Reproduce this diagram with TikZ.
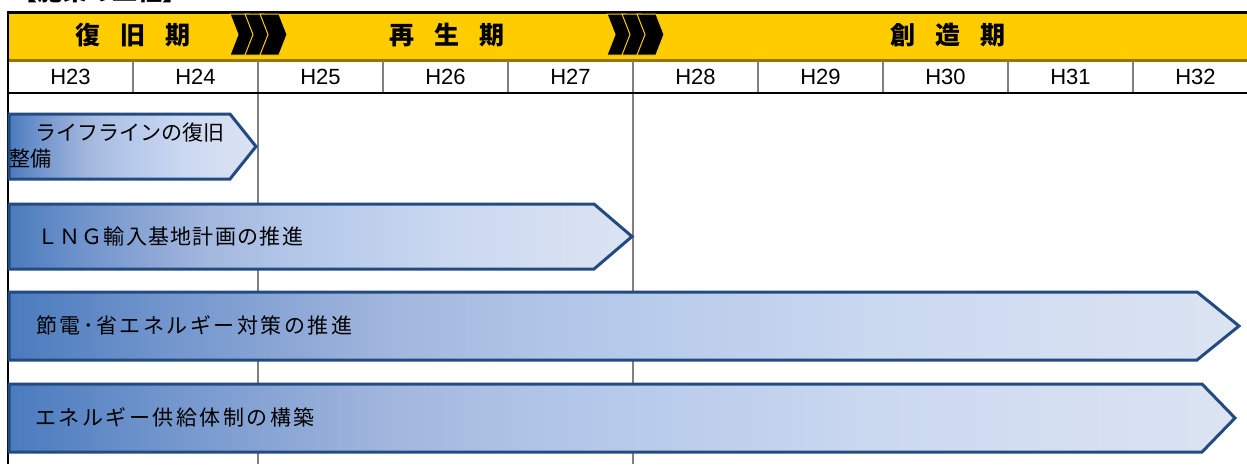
\documentclass[tikz,border=0pt]{standalone}
\usepackage{fontspec}
\setmainfont{Liberation Sans}
\newfontfamily\jp{Noto Sans CJK JP}
\newfontfamily\jpsp[LetterSpace=6]{Noto Sans CJK JP}
\newfontfamily\jpwide[LetterSpace=12]{Noto Sans CJK JP}
\definecolor{band}{RGB}{255,204,0}
\definecolor{goldline}{RGB}{150,118,0}
\definecolor{gridgrey}{RGB}{128,128,128}
\definecolor{barborder}{RGB}{35,75,130}
\definecolor{bA}{RGB}{74,123,189}
\definecolor{bB}{RGB}{112,148,204}
\definecolor{bC}{RGB}{164,184,222}
\definecolor{bD}{RGB}{178,198,233}
\definecolor{bE}{RGB}{202,216,240}
\definecolor{bF}{RGB}{220,228,242}
\pgfdeclarehorizontalshading{barshade}{100bp}{color(0bp)=(bA); color(25bp)=(bA); color(31bp)=(bB); color(41bp)=(bC); color(47.5bp)=(bD); color(60bp)=(bE); color(75bp)=(bF); color(100bp)=(bF)}
\tikzset{
  bar/.style={shading=barshade, draw=barborder, line width=3pt, line join=miter},
  yearlbl/.style={font=\fontsize{22}{22}\selectfont, inner sep=0},
  phaselbl/.style={font=\jp\bfseries\fontsize{25}{25}\selectfont, inner sep=0},
  bartext/.style={font=\jpsp\fontsize{21}{26}\selectfont, inner sep=0, anchor=west, align=left},
  chev/.style={fill=black, draw=band, line width=1pt, line join=miter},
  gridline/.style={draw=gridgrey, line width=2.5pt},
}
\begin{document}
\begin{tikzpicture}[x=1pt,y=-1pt]
\useasboundingbox (0,0) rectangle (1247,464);
\clip (0,0) rectangle (1247,464);
% cut-off title
\node[anchor=base west, font=\jp\bfseries\fontsize{25}{25}\selectfont, inner sep=0] (title) at (12,0.5) {【施策の工程】};
% yellow band
\fill[band] (8,12) rectangle (1250,60);
% year row
\fill[white] (8,61) rectangle (1250,93);
\draw[goldline, line width=2.5pt] (8,60.5) -- (1250,60.5);
% grid lines
\foreach \gx in {133,383,508,758,883,1008,1133}
  \draw[gridline] (\gx,61) -- (\gx,92);
\draw[gridline] (258,61) -- (258,464);
\draw[gridline] (633,61) -- (633,464);
% frame
\draw[black, line width=3pt] (6.75,12) -- (1250,12);
\draw[black, line width=2.5pt] (8,93) -- (1250,93);
\draw[black, line width=2.5pt] (8,10.5) -- (8,464);
% year labels
\foreach \i in {0,...,9}{
  \pgfmathtruncatemacro{\yr}{23+\i}
  \node[yearlbl] (y\yr) at (70.5+125*\i,77) {H\yr};
}
% phase labels
\node[phaselbl] (p1) at (133,35) {復\hspace{20pt}旧\hspace{20pt}期};
\node[phaselbl] (p2) at (447,35) {再\hspace{20pt}生\hspace{20pt}期};
\node[phaselbl] (p3) at (948,35) {創\hspace{20pt}造\hspace{20pt}期};
% chevrons
\foreach \cx in {230,245,260,607,622,637}
  \path[chev] (\cx,14) -- ++(19,0) -- ++(8,20.5) -- ++(-8,20.5) -- ++(-19,0) -- ++(8,-20.5) -- cycle;
% bars
\path[bar] (9,114) -- (230,114) -- (256,146.5) -- (230,179) -- (9,179) -- cycle;
\path[bar] (9,204) -- (594,204) -- (632,236.5) -- (594,269) -- (9,269) -- cycle;
\path[bar] (9,292) -- (1197,292) -- (1239,326) -- (1197,360) -- (9,360) -- cycle;
\path[bar] (9,384) -- (1202,384) -- (1235,418) -- (1202,452) -- (9,452) -- cycle;
% bar texts
\node[bartext, font=\jp\fontsize{21}{26}\selectfont] (t1) at (9,146) {\hspace*{26pt}ライフラインの復旧\\整備};
\node[bartext] (t2) at (37,237) {ＬＮＧ輸入基地計画の推進};
\node[bartext, font=\jpwide\fontsize{21}{26}\selectfont] (t3) at (36,325) {節電･省エネルギー対策の推進};
\node[bartext, font=\jpwide\fontsize{21}{26}\selectfont] (t4) at (35,417) {エネルギー供給体制の構築};
\end{tikzpicture}
\end{document}
